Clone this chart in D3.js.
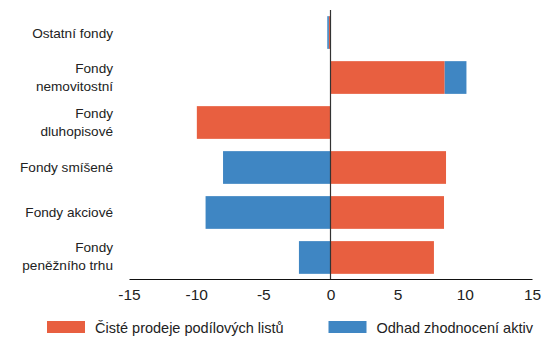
<!DOCTYPE html>
<html><head><meta charset="utf-8">
<script src="https://cdn.jsdelivr.net/npm/d3@7"></script>
<style>
html,body{margin:0;padding:0;background:#fff;}
svg text{font-family:"Liberation Sans",Arial,sans-serif;fill:#222;}
</style></head>
<body><svg id="c" width="544" height="338"></svg>
<script>
const categories = [
  ["Ostatní fondy"],
  ["Fondy","nemovitostní"],
  ["Fondy","dluhopisové"],
  ["Fondy smíšené"],
  ["Fondy akciové"],
  ["Fondy","peněžního trhu"]
];
const seriesNames = ["Čisté prodeje podílových listů","Odhad zhodnocení aktiv"];
const salesValues = [-0.12, 8.5, -9.95, 8.6, 8.45, 7.7];
const valuationValues = [-0.12, 1.62, 0, -8.0, -9.3, -2.35];
const xTicks = [-15,-10,-5,0,5,10,15];
const colors = ["#E85F40","#3F86C3"];

const svg = d3.select("#c");
const keys = categories.map(c => c.join(" "));
const rows = keys.map((k,i) => ({key:k, s0: salesValues[i], s1: valuationValues[i]}));

const x = d3.scaleLinear().domain([-15,15]).range([129,532]);
const y = d3.scaleBand().domain(keys).range([10,280]).paddingInner(0.273).paddingOuter(0.137);

const stack = d3.stack().keys(["s0","s1"]).offset(d3.stackOffsetDiverging);
const series = stack(rows);

svg.append("g").selectAll("g").data(series).join("g")
  .attr("fill",(d,i)=>colors[i])
  .selectAll("rect").data(d=>d).join("rect")
  .attr("x",d=>x(Math.min(d[0],d[1])))
  .attr("width",d=>Math.abs(x(d[1])-x(d[0])))
  .attr("y",d=>y(d.data.key))
  .attr("height",y.bandwidth());

// zero line
svg.append("line").attr("x1",x(0)).attr("x2",x(0)).attr("y1",10).attr("y2",279)
  .attr("stroke","#333").attr("stroke-width",1.2);

// x axis
const xAxis = d3.axisBottom(x).tickValues(xTicks).tickSize(0).tickPadding(0)
  .tickFormat(d => String(d));
const gx = svg.append("g").attr("transform","translate(0,279)").call(xAxis);
gx.select(".domain").attr("stroke","#111").attr("stroke-width",1.2);
gx.selectAll("text").attr("font-family","Liberation Sans, Arial, sans-serif")
  .attr("font-size",15.5).attr("fill","#222").attr("dy",null).attr("y",20.5);

// category labels
const lab = svg.append("g").selectAll("text").data(categories).join("text")
  .attr("text-anchor","end").attr("font-size",13.6)
  .attr("transform",(d,i)=>`translate(113,${y(keys[i])+y.bandwidth()/2})`);
lab.each(function(d){
  const t = d3.select(this);
  if(d.length===1){
    t.append("tspan").attr("x",0).attr("y",5).text(d[0]);
  } else {
    t.append("tspan").attr("x",0).attr("y",-5).text(d[0]);
    t.append("tspan").attr("x",0).attr("y",13).text(d[1]);
  }
});

// legend
const legX = [47,328.5];
const leg = svg.append("g").selectAll("g").data(seriesNames).join("g")
  .attr("transform",(d,i)=>`translate(${legX[i]},321)`);
leg.append("rect").attr("width",38).attr("height",12).attr("fill",(d,i)=>colors[i]);
leg.append("text").attr("x",48).attr("y",11.5).attr("font-size",14.5).text(d=>d);
</script></body></html>
